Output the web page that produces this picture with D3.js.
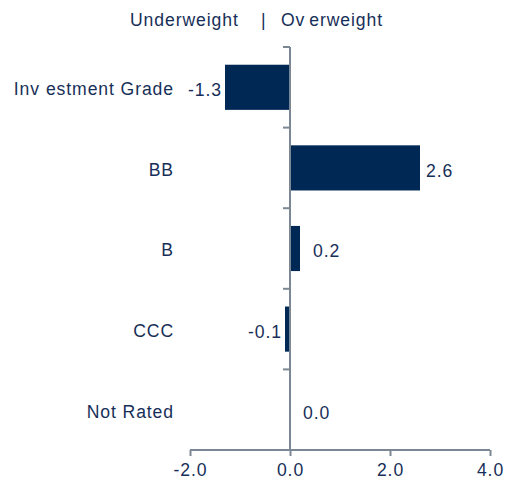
<!DOCTYPE html>
<html><head><meta charset="utf-8">
<script src="https://cdn.jsdelivr.net/npm/d3@7"></script>
<style>
body{margin:0;background:#fff;}
text{font-family:"Liberation Sans",Arial,sans-serif;}
</style></head>
<body><div id="chart"></div>
<script>
const categories = ["Investment Grade","BB","B","CCC","Not Rated"];
const values = [-1.3, 2.6, 0.2, -0.1, 0.0];
const xTicks = [-2, 0, 2, 4];
const xTickLabels = ["-2.0","0.0","2.0","4.0"];

const W = 505, H = 483;
const textColor = "#172f58", barColor = "#002855", axisColor = "#7c8794";
const fs = 17.6;

const svg = d3.select("#chart").append("svg").attr("width", W).attr("height", H);

const x = d3.scaleLinear().domain([-2, 4]).range([190, 490]);
const y = d3.scaleBand().domain(categories).range([47, 450]).paddingInner(0.44).paddingOuter(0.22);

// title
const title = svg.append("g").attr("fill", textColor).attr("font-size", fs).style("letter-spacing","0.9px");
title.append("text").attr("x", 130).attr("y", 26).text("Underweight");
title.append("text").attr("x", 261).attr("y", 26).text("|");
const ov = title.append("text").attr("x", 281).attr("y", 26);
ov.append("tspan").text("Ov");
ov.append("tspan").attr("dx", 4).text("erweight");

// bars
svg.append("g").selectAll("rect").data(values).join("rect")
  .attr("x", d => x(Math.min(0, d)))
  .attr("width", d => Math.abs(x(d) - x(0)))
  .attr("y", (d, i) => y(categories[i]))
  .attr("height", y.bandwidth())
  .attr("fill", barColor);

// y axis with ticks at category boundaries
const ya = svg.append("g").attr("stroke", axisColor).attr("stroke-width", 2);
ya.append("line").attr("x1", x(0)).attr("x2", x(0)).attr("y1", 47).attr("y2", 450);
const edges = d3.range(categories.length).map(i => y(categories[i]) - y.step() * y.paddingOuter());
ya.selectAll("line.t").data(edges).join("line").attr("class","t")
  .attr("x1", x(0) - 7).attr("x2", x(0)).attr("y1", d => d).attr("y2", d => d);

// x axis
const xa = svg.append("g").attr("transform", "translate(0,450)")
  .call(d3.axisBottom(x).tickValues(xTicks).tickSize(6).tickSizeOuter(0).tickFormat((d, i) => xTickLabels[i]));
xa.select(".domain").attr("stroke", axisColor).attr("stroke-width", 2).attr("d", `M${x(-2)},0H${x(4)}`);
xa.selectAll(".tick line").attr("stroke", axisColor).attr("stroke-width", 2);
xa.selectAll(".tick text").attr("fill", textColor).attr("font-size", fs).attr("dy", 0).attr("y", 26)
  .style("letter-spacing","0.9px").attr("font-family", '"Liberation Sans",Arial,sans-serif');

// category labels
const cl = svg.append("g").attr("fill", textColor).attr("font-size", fs).style("letter-spacing","0.9px").attr("text-anchor","end");
categories.forEach(c => {
  const t = cl.append("text").attr("x", 174).attr("y", y(c) + y.bandwidth()/2).attr("dy", "0.45em");
  if (c === "Investment Grade") {
    t.append("tspan").text("Inv");
    t.append("tspan").attr("dx", 6).text("estment Grade");
  } else t.text(c);
});

// value labels
svg.append("g").attr("fill", textColor).attr("font-size", fs).style("letter-spacing","0.9px")
  .selectAll("text").data(values).join("text")
  .attr("text-anchor", d => d < 0 ? "end" : "start")
  .attr("x", d => d < 0 ? x(d) - 3 : x(d) + (d < 1 ? 13 : 6))
  .attr("y", (d, i) => y(categories[i]) + y.bandwidth()/2)
  .attr("dy", "0.5em")
  .text(d => d.toFixed(1));
</script></body></html>
